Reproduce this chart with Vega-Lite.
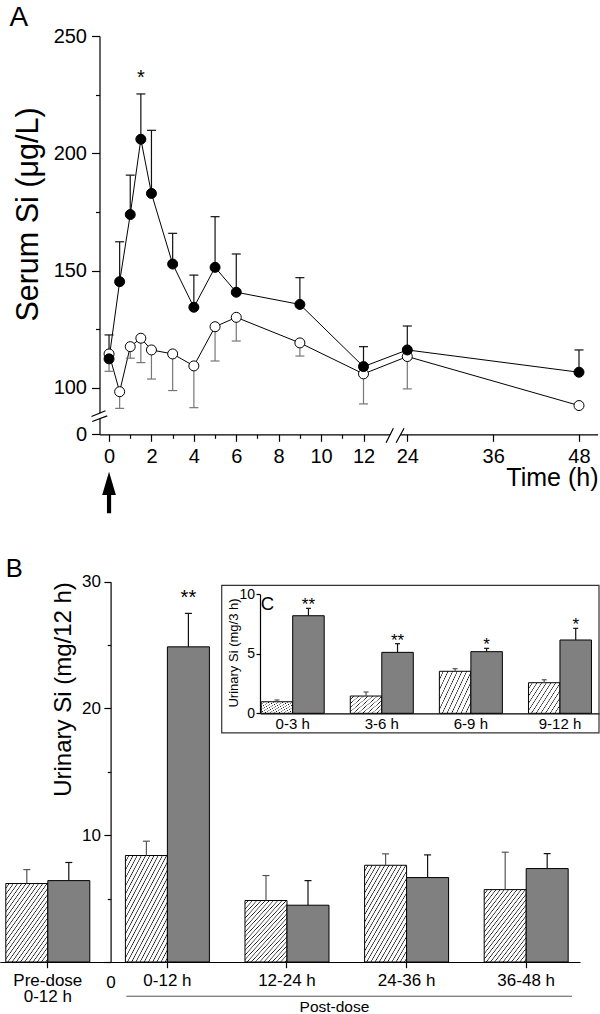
{
"$schema": "https://vega.github.io/schema/vega-lite/v6.json",
"width": 600, "height": 1014, "autosize": {"type": "none"}, "padding": 0,
"background": "white",
"config": {"view": {"stroke": null}, "font": "Liberation Sans",
  "axis": {"labelFont": "Liberation Sans", "titleFont": "Liberation Sans", "labelColor": "black", "titleColor": "black", "domainColor": "black", "tickColor": "black", "titleFontWeight": "normal", "grid": false},
  "text": {"font": "Liberation Sans", "color": "black"}},
"datasets": {
  "serum": [
    {"time": 0, "group": "Si", "value": 112.4, "err": 122.6},
    {"time": 0.5, "group": "Si", "value": 145.3, "err": 162.3},
    {"time": 1, "group": "Si", "value": 173.9, "err": 190.7},
    {"time": 1.5, "group": "Si", "value": 206, "err": 225.3, "sig": "*"},
    {"time": 2, "group": "Si", "value": 182.9, "err": 209.8},
    {"time": 3, "group": "Si", "value": 152.8, "err": 165.9},
    {"time": 4, "group": "Si", "value": 134.4, "err": 148.1},
    {"time": 5, "group": "Si", "value": 151.4, "err": 173},
    {"time": 6, "group": "Si", "value": 140.8, "err": 157.1},
    {"time": 9, "group": "Si", "value": 135.6, "err": 147},
    {"time": 12, "group": "Si", "value": 109.1, "err": 117.6},
    {"time": 24, "group": "Si", "value": 116.2, "err": 126.4},
    {"time": 48, "group": "Si", "value": 106.7, "err": 116.2},
    {"time": 0, "group": "Control", "value": 114.5, "err": 107.1},
    {"time": 0.5, "group": "Control", "value": 98.4, "err": 91.3},
    {"time": 1, "group": "Control", "value": 117.6, "err": 112.7},
    {"time": 1.5, "group": "Control", "value": 121.2, "err": 110.8},
    {"time": 2, "group": "Control", "value": 116.2, "err": 103.8},
    {"time": 3, "group": "Control", "value": 114.5, "err": 98.9},
    {"time": 4, "group": "Control", "value": 109.4, "err": 91.6},
    {"time": 5, "group": "Control", "value": 126.1, "err": 111.5},
    {"time": 6, "group": "Control", "value": 130.1, "err": 120},
    {"time": 9, "group": "Control", "value": 119.2, "err": 113.6},
    {"time": 12, "group": "Control", "value": 106, "err": 93.2},
    {"time": 24, "group": "Control", "value": 113.4, "err": 99.6},
    {"time": 48, "group": "Control", "value": 92.5, "err": 92.5}
  ],
  "urine12": [
    {"period": "Pre-dose 0-12 h", "group": "Control", "value": 6.19, "upper": 7.29},
    {"period": "Pre-dose 0-12 h", "group": "Si", "value": 6.42, "upper": 7.85},
    {"period": "0-12 h", "group": "Control", "value": 8.4, "upper": 9.53},
    {"period": "0-12 h", "group": "Si", "value": 24.86, "upper": 27.5, "sig": "**"},
    {"period": "12-24 h", "group": "Control", "value": 4.85, "upper": 6.82},
    {"period": "12-24 h", "group": "Si", "value": 4.48, "upper": 6.42},
    {"period": "24-36 h", "group": "Control", "value": 7.63, "upper": 8.53},
    {"period": "24-36 h", "group": "Si", "value": 6.66, "upper": 8.45},
    {"period": "36-48 h", "group": "Control", "value": 5.71, "upper": 8.66},
    {"period": "36-48 h", "group": "Si", "value": 7.37, "upper": 8.55}
  ],
  "urine3": [
    {"period": "0-3 h", "group": "Control", "value": 0.97, "upper": 1.12},
    {"period": "0-3 h", "group": "Si", "value": 8.2, "upper": 8.82, "sig": "**"},
    {"period": "3-6 h", "group": "Control", "value": 1.45, "upper": 1.79},
    {"period": "3-6 h", "group": "Si", "value": 5.12, "upper": 5.85, "sig": "**"},
    {"period": "6-9 h", "group": "Control", "value": 3.53, "upper": 3.75},
    {"period": "6-9 h", "group": "Si", "value": 5.18, "upper": 5.46, "sig": "*"},
    {"period": "9-12 h", "group": "Control", "value": 2.57, "upper": 2.82},
    {"period": "9-12 h", "group": "Si", "value": 6.16, "upper": 7.14, "sig": "*"}
  ],
  "labelA": [{"label": "A"}],
  "labelB": [{"label": "B"}],
  "labelC": [{"label": "C"}],
  "postdose": [{"label": "Post-dose"}],
  "dose": [{"label": "dose"}]
},
"resolve": {"scale": {"x": "independent", "y": "independent", "xOffset": "independent"}},
"layer": [
  {"data": {"name": "serum"},
   "mark": {"type": "line", "color": "black", "strokeWidth": 1},
   "encoding": {
     "x": {"field": "time", "type": "quantitative",
       "scale": {"type": "linear", "domain": [-0.45, 12, 24, 50.6], "range": [99.5, 363.5, 407.3, 597.6], "nice": false, "zero": false},
       "axis": {"orient": "bottom", "offset": -579.7, "values": [0, 2, 4, 6, 8, 10, 12, 24, 36, 48], "tickSize": 7, "tickWidth": 1.2, "domainWidth": 1.2, "labelFontSize": 20, "labelPadding": 5, "labelFlush": false, "labelOverlap": false, "labelBound": false, "labelAngle": 0, "title": "Time (h)", "titleFontSize": 25, "titleX": 598, "titleY": 51.5, "titleAlign": "right", "titleBaseline": "alphabetic", "titleAngle": 0}},
     "y": {"field": "value", "type": "quantitative",
       "scale": {"type": "linear", "domain": [0, 84, 250], "range": [434.3, 425.5, 36], "nice": false, "zero": false},
       "axis": {"orient": "left", "offset": -99.5, "values": [0, 100, 150, 200, 250], "tickSize": 8, "tickWidth": 1.2, "domainWidth": 1.2, "labelFontSize": 20, "labelPadding": 5, "labelFlush": false, "labelOverlap": false, "labelBound": false, "title": "Serum Si (μg/L)", "titleFontSize": 30.5, "titleX": -71.5, "titleY": 214, "titleAlign": "center", "titleBaseline": "middle", "titleAngle": -90}},
     "detail": {"field": "group", "type": "nominal"}
   }},
  {"data": {"name": "serum"},
   "mark": {"type": "rule", "strokeWidth": 1.2},
   "encoding": {
     "x": {"field": "time", "type": "quantitative",
       "scale": {"type": "linear", "domain": [-0.45, 12, 24, 50.6], "range": [99.5, 363.5, 407.3, 597.6], "nice": false, "zero": false},
       "axis": {"orient": "bottom", "offset": -579.7, "values": [1, 3, 5, 7, 9, 11], "tickSize": 4, "tickWidth": 1.2, "labels": false, "domain": false, "title": null}},
     "y": {"field": "value", "type": "quantitative",
       "scale": {"type": "linear", "domain": [0, 84, 250], "range": [434.3, 425.5, 36], "nice": false, "zero": false},
       "axis": {"orient": "left", "offset": -99.5, "values": [125, 175, 225], "tickSize": 4, "tickWidth": 1.2, "labels": false, "domain": false, "title": null}},
     "y2": {"field": "err"},
     "color": {"condition": {"test": "datum.group === 'Si'", "value": "#111111"}, "value": "#777777"}
   }},
  {"data": {"name": "serum"},
   "mark": {"type": "point", "shape": "M-1,0L1,0", "size": 81, "strokeWidth": 1.2, "filled": false, "opacity": 1},
   "encoding": {
     "x": {"field": "time", "type": "quantitative",
       "scale": {"type": "linear", "domain": [-0.45, 12, 24, 50.6], "range": [99.5, 363.5, 407.3, 597.6], "nice": false, "zero": false}, "axis": null},
     "y": {"field": "err", "type": "quantitative",
       "scale": {"type": "linear", "domain": [0, 84, 250], "range": [434.3, 425.5, 36], "nice": false, "zero": false}, "axis": null},
     "color": {"condition": {"test": "datum.group === 'Si'", "value": "#111111"}, "value": "#777777"}
   }},
  {"data": {"name": "serum"},
   "transform": [{"filter": "datum.group === 'Control'"}],
   "mark": {"type": "point", "shape": "circle", "size": 100, "filled": true, "fill": "white", "stroke": "black", "strokeWidth": 1, "opacity": 1, "fillOpacity": 1},
   "encoding": {
     "x": {"field": "time", "type": "quantitative",
       "scale": {"type": "linear", "domain": [-0.45, 12, 24, 50.6], "range": [99.5, 363.5, 407.3, 597.6], "nice": false, "zero": false}, "axis": null},
     "y": {"field": "value", "type": "quantitative",
       "scale": {"type": "linear", "domain": [0, 84, 250], "range": [434.3, 425.5, 36], "nice": false, "zero": false}, "axis": null}
   }},
  {"data": {"name": "serum"},
   "transform": [{"filter": "datum.group === 'Si'"}],
   "mark": {"type": "point", "shape": "circle", "size": 100, "filled": true, "fill": "black", "stroke": "black", "strokeWidth": 1, "opacity": 1, "fillOpacity": 1},
   "encoding": {
     "x": {"field": "time", "type": "quantitative",
       "scale": {"type": "linear", "domain": [-0.45, 12, 24, 50.6], "range": [99.5, 363.5, 407.3, 597.6], "nice": false, "zero": false}, "axis": null},
     "y": {"field": "value", "type": "quantitative",
       "scale": {"type": "linear", "domain": [0, 84, 250], "range": [434.3, 425.5, 36], "nice": false, "zero": false}, "axis": null}
   }},
  {"data": {"name": "serum"},
   "transform": [{"filter": "isValid(datum.sig)"}],
   "mark": {"type": "text", "fontSize": 20, "dy": -10, "baseline": "alphabetic", "align": "center", "color": "black"},
   "encoding": {
     "x": {"field": "time", "type": "quantitative",
       "scale": {"type": "linear", "domain": [-0.45, 12, 24, 50.6], "range": [99.5, 363.5, 407.3, 597.6], "nice": false, "zero": false}, "axis": null},
     "y": {"field": "err", "type": "quantitative",
       "scale": {"type": "linear", "domain": [0, 84, 250], "range": [434.3, 425.5, 36], "nice": false, "zero": false}, "axis": null},
     "text": {"field": "sig"}
   }},
  {"data": {"name": "dose"},
   "mark": {"type": "point", "shape": "M0,-1L0.33,0.12L0.1,0.12L0.1,1L-0.1,1L-0.1,0.12L-0.33,0.12Z", "size": 1730, "filled": true, "fill": "black", "strokeWidth": 0, "opacity": 1, "yOffset": 58.2},
   "encoding": {
     "x": {"datum": 0, "type": "quantitative",
       "scale": {"type": "linear", "domain": [-0.45, 12, 24, 50.6], "range": [99.5, 363.5, 407.3, 597.6], "nice": false, "zero": false}, "axis": null},
     "y": {"datum": 0, "type": "quantitative",
       "scale": {"type": "linear", "domain": [0, 84, 250], "range": [434.3, 425.5, 36], "nice": false, "zero": false}, "axis": null}
   }},
  {"data": {"name": "dose"},
   "mark": {"type": "point", "shape": "M-0.6,0.25L0.43,0.25L0.7,-0.25L-0.35,-0.25Z", "size": 400, "filled": true, "fill": "white", "strokeWidth": 0, "opacity": 1},
   "encoding": {
     "x": {"datum": 20.65, "type": "quantitative",
       "scale": {"type": "linear", "domain": [-0.45, 12, 24, 50.6], "range": [99.5, 363.5, 407.3, 597.6], "nice": false, "zero": false}, "axis": null},
     "y": {"datum": 0, "type": "quantitative",
       "scale": {"type": "linear", "domain": [0, 84, 250], "range": [434.3, 425.5, 36], "nice": false, "zero": false}, "axis": null}
   }},
  {"data": {"name": "dose"},
   "mark": {"type": "point", "shape": "M-0.9,0.84L-0.17,-0.6M0.1,0.84L0.9,-0.6", "size": 400, "filled": false, "stroke": "black", "strokeWidth": 1.2, "opacity": 1},
   "encoding": {
     "x": {"datum": 20.65, "type": "quantitative",
       "scale": {"type": "linear", "domain": [-0.45, 12, 24, 50.6], "range": [99.5, 363.5, 407.3, 597.6], "nice": false, "zero": false}, "axis": null},
     "y": {"datum": 0, "type": "quantitative",
       "scale": {"type": "linear", "domain": [0, 84, 250], "range": [434.3, 425.5, 36], "nice": false, "zero": false}, "axis": null}
   }},
  {"data": {"name": "dose"},
   "mark": {"type": "point", "shape": "M-0.2,-0.17L0.2,-0.33L0.2,0.15L-0.2,0.31Z", "size": 400, "filled": true, "fill": "white", "strokeWidth": 0, "opacity": 1},
   "encoding": {
     "x": {"datum": -0.45, "type": "quantitative",
       "scale": {"type": "linear", "domain": [-0.45, 12, 24, 50.6], "range": [99.5, 363.5, 407.3, 597.6], "nice": false, "zero": false}, "axis": null},
     "y": {"datum": 88, "type": "quantitative",
       "scale": {"type": "linear", "domain": [0, 84, 250], "range": [434.3, 425.5, 36], "nice": false, "zero": false}, "axis": null}
   }},
  {"data": {"name": "dose"},
   "mark": {"type": "point", "shape": "M-0.8,0.04L0.6,-0.53M-0.73,0.54L0.77,-0.03", "size": 400, "filled": false, "stroke": "black", "strokeWidth": 1.2, "opacity": 1},
   "encoding": {
     "x": {"datum": -0.45, "type": "quantitative",
       "scale": {"type": "linear", "domain": [-0.45, 12, 24, 50.6], "range": [99.5, 363.5, 407.3, 597.6], "nice": false, "zero": false}, "axis": null},
     "y": {"datum": 88, "type": "quantitative",
       "scale": {"type": "linear", "domain": [0, 84, 250], "range": [434.3, 425.5, 36], "nice": false, "zero": false}, "axis": null}
   }},
  {"data": {"name": "labelA"},
   "mark": {"type": "text", "fontSize": 28, "align": "center", "baseline": "middle", "color": "black"},
   "encoding": {
     "x": {"datum": -4.25, "type": "quantitative",
       "scale": {"type": "linear", "domain": [-0.45, 12, 24, 50.6], "range": [99.5, 363.5, 407.3, 597.6], "nice": false, "zero": false}, "axis": null},
     "y": {"datum": 257.7, "type": "quantitative",
       "scale": {"type": "linear", "domain": [0, 84, 250], "range": [434.3, 425.5, 36], "nice": false, "zero": false}, "axis": null},
     "text": {"field": "label"}
   }},

  {"data": {"name": "urine12"},
   "mark": {"type": "bar", "stroke": "black", "strokeWidth": 1},
   "encoding": {
     "x": {"field": "period", "type": "nominal", "sort": null,
       "scale": {"type": "band", "domain": ["Pre-dose 0-12 h", "0-12 h", "12-24 h", "24-36 h", "36-48 h"], "range": [-0.2, 580], "paddingInner": 0.2977, "paddingOuter": 0.0745, "align": 0.337},
       "axis": {"orient": "bottom", "offset": -52, "tickSize": 5.7, "tickWidth": 1.2, "domainWidth": 1.2, "labelFontSize": 17, "labelPadding": 4.5, "labelLineHeight": 16.5, "labelAngle": 0, "labelFlush": false, "labelOverlap": false, "labelBound": false, "labelExpr": "datum.value === 'Pre-dose 0-12 h' ? ['Pre-dose', '0-12 h'] : datum.value", "title": null}},
     "xOffset": {"field": "group", "type": "nominal", "scale": {"type": "band", "domain": ["Control", "Si"], "paddingInner": 0, "paddingOuter": 0}},
     "y": {"field": "value", "type": "quantitative",
       "scale": {"type": "linear", "domain": [0, 30], "range": [962, 581.7], "nice": false, "zero": false},
       "axis": {"orient": "left", "offset": -110.6, "values": [0, 10, 20, 30], "tickSize": 6.7, "tickWidth": 1.2, "domainWidth": 1.2, "labelFontSize": 17, "labelFlush": false, "labelOverlap": false, "labelBound": false,
         "labelPadding": {"condition": {"test": "datum.value === 0", "value": -6.7}, "value": 3.5},
         "labelAlign": {"condition": {"test": "datum.value === 0", "value": "center"}, "value": "right"},
         "labelOffset": {"condition": {"test": "datum.value === 0", "value": 20}, "value": 0},
         "title": "Urinary Si (mg/12 h)", "titleFontSize": 24, "titleX": -47.6, "titleY": 689, "titleAlign": "center", "titleBaseline": "middle", "titleAngle": -90}},
     "fill": {"condition": {"test": "datum.group === 'Control'", "value": {"gradient": "linear", "x1": 0, "y1": 0, "x2": 0.9, "y2": 1.2, "stops": [
       {"offset": 0, "color": "#ffffff"}, {"offset": 0.025, "color": "#ffffff"}, {"offset": 0.033, "color": "#111111"},
       {"offset": 0.04, "color": "#ffffff"}, {"offset": 0.065, "color": "#ffffff"}, {"offset": 0.073, "color": "#111111"},
       {"offset": 0.08, "color": "#ffffff"}, {"offset": 0.105, "color": "#ffffff"}, {"offset": 0.113, "color": "#111111"},
       {"offset": 0.12, "color": "#ffffff"}, {"offset": 0.145, "color": "#ffffff"}, {"offset": 0.153, "color": "#111111"},
       {"offset": 0.16, "color": "#ffffff"}, {"offset": 0.185, "color": "#ffffff"}, {"offset": 0.193, "color": "#111111"},
       {"offset": 0.2, "color": "#ffffff"}, {"offset": 0.225, "color": "#ffffff"}, {"offset": 0.233, "color": "#111111"},
       {"offset": 0.24, "color": "#ffffff"}, {"offset": 0.265, "color": "#ffffff"}, {"offset": 0.273, "color": "#111111"},
       {"offset": 0.28, "color": "#ffffff"}, {"offset": 0.305, "color": "#ffffff"}, {"offset": 0.313, "color": "#111111"},
       {"offset": 0.32, "color": "#ffffff"}, {"offset": 0.345, "color": "#ffffff"}, {"offset": 0.353, "color": "#111111"},
       {"offset": 0.36, "color": "#ffffff"}, {"offset": 0.385, "color": "#ffffff"}, {"offset": 0.393, "color": "#111111"},
       {"offset": 0.4, "color": "#ffffff"}, {"offset": 0.425, "color": "#ffffff"}, {"offset": 0.433, "color": "#111111"},
       {"offset": 0.44, "color": "#ffffff"}, {"offset": 0.465, "color": "#ffffff"}, {"offset": 0.473, "color": "#111111"},
       {"offset": 0.48, "color": "#ffffff"}, {"offset": 0.505, "color": "#ffffff"}, {"offset": 0.513, "color": "#111111"},
       {"offset": 0.52, "color": "#ffffff"}, {"offset": 0.545, "color": "#ffffff"}, {"offset": 0.553, "color": "#111111"},
       {"offset": 0.56, "color": "#ffffff"}, {"offset": 0.585, "color": "#ffffff"}, {"offset": 0.593, "color": "#111111"},
       {"offset": 0.6, "color": "#ffffff"}, {"offset": 0.625, "color": "#ffffff"}, {"offset": 0.633, "color": "#111111"},
       {"offset": 0.64, "color": "#ffffff"}, {"offset": 0.665, "color": "#ffffff"}, {"offset": 0.673, "color": "#111111"},
       {"offset": 0.68, "color": "#ffffff"}, {"offset": 0.705, "color": "#ffffff"}, {"offset": 0.713, "color": "#111111"},
       {"offset": 0.72, "color": "#ffffff"}, {"offset": 0.745, "color": "#ffffff"}, {"offset": 0.753, "color": "#111111"},
       {"offset": 0.76, "color": "#ffffff"}, {"offset": 0.785, "color": "#ffffff"}, {"offset": 0.793, "color": "#111111"},
       {"offset": 0.8, "color": "#ffffff"}, {"offset": 0.825, "color": "#ffffff"}, {"offset": 0.833, "color": "#111111"},
       {"offset": 0.84, "color": "#ffffff"}, {"offset": 0.865, "color": "#ffffff"}, {"offset": 0.873, "color": "#111111"},
       {"offset": 0.88, "color": "#ffffff"}, {"offset": 0.905, "color": "#ffffff"}, {"offset": 0.913, "color": "#111111"},
       {"offset": 0.92, "color": "#ffffff"}, {"offset": 0.945, "color": "#ffffff"}, {"offset": 0.953, "color": "#111111"},
       {"offset": 0.96, "color": "#ffffff"}, {"offset": 0.985, "color": "#ffffff"}, {"offset": 0.993, "color": "#111111"},
       {"offset": 1, "color": "#ffffff"}]}}, "value": "#808080"}
   }},
  {"data": {"name": "urine12"},
   "mark": {"type": "rule", "strokeWidth": 1.2},
   "encoding": {
     "x": {"field": "period", "type": "nominal",
       "scale": {"type": "band", "domain": ["Pre-dose 0-12 h", "0-12 h", "12-24 h", "24-36 h", "36-48 h"], "range": [-0.2, 580], "paddingInner": 0.2977, "paddingOuter": 0.0745, "align": 0.337}, "axis": null},
     "xOffset": {"field": "group", "type": "nominal", "scale": {"type": "band", "domain": ["Control", "Si"], "paddingInner": 0, "paddingOuter": 0}},
     "y": {"field": "value", "type": "quantitative",
       "scale": {"type": "linear", "domain": [0, 30], "range": [962, 581.7], "nice": false, "zero": false},
       "axis": {"orient": "left", "offset": -110.6, "values": [5, 15, 25], "tickSize": 3.3, "tickWidth": 1.2, "labels": false, "domain": false, "title": null}},
     "y2": {"field": "upper"},
     "color": {"condition": {"test": "datum.group === 'Si'", "value": "#111111"}, "value": "#555555"}
   }},
  {"data": {"name": "urine12"},
   "mark": {"type": "point", "shape": "M-1,0L1,0", "size": 49, "strokeWidth": 1.2, "filled": false, "opacity": 1},
   "encoding": {
     "x": {"field": "period", "type": "nominal",
       "scale": {"type": "band", "domain": ["Pre-dose 0-12 h", "0-12 h", "12-24 h", "24-36 h", "36-48 h"], "range": [-0.2, 580], "paddingInner": 0.2977, "paddingOuter": 0.0745, "align": 0.337}, "axis": null},
     "xOffset": {"field": "group", "type": "nominal", "scale": {"type": "band", "domain": ["Control", "Si"], "paddingInner": 0, "paddingOuter": 0}},
     "y": {"field": "upper", "type": "quantitative",
       "scale": {"type": "linear", "domain": [0, 30], "range": [962, 581.7], "nice": false, "zero": false}, "axis": null},
     "color": {"condition": {"test": "datum.group === 'Si'", "value": "#111111"}, "value": "#555555"}
   }},
  {"data": {"name": "urine12"},
   "transform": [{"filter": "isValid(datum.sig)"}],
   "mark": {"type": "text", "fontSize": 20, "dy": -9, "baseline": "alphabetic", "align": "center", "color": "black"},
   "encoding": {
     "x": {"field": "period", "type": "nominal",
       "scale": {"type": "band", "domain": ["Pre-dose 0-12 h", "0-12 h", "12-24 h", "24-36 h", "36-48 h"], "range": [-0.2, 580], "paddingInner": 0.2977, "paddingOuter": 0.0745, "align": 0.337}, "axis": null},
     "xOffset": {"field": "group", "type": "nominal", "scale": {"type": "band", "domain": ["Control", "Si"], "paddingInner": 0, "paddingOuter": 0}},
     "y": {"field": "upper", "type": "quantitative",
       "scale": {"type": "linear", "domain": [0, 30], "range": [962, 581.7], "nice": false, "zero": false}, "axis": null},
     "text": {"field": "sig"}
   }},
  {"data": {"name": "labelB"},
   "mark": {"type": "text", "fontSize": 25.5, "align": "center", "baseline": "middle", "color": "black"},
   "encoding": {
     "x": {"datum": "Pre-dose 0-12 h", "type": "nominal", "bandPosition": 0.1,
       "scale": {"type": "band", "domain": ["Pre-dose 0-12 h", "0-12 h", "12-24 h", "24-36 h", "36-48 h"], "range": [-0.2, 580], "paddingInner": 0.2977, "paddingOuter": 0.0745, "align": 0.337}, "axis": null},
     "y": {"datum": 31, "type": "quantitative",
       "scale": {"type": "linear", "domain": [0, 30], "range": [962, 581.7], "nice": false, "zero": false}, "axis": null},
     "text": {"field": "label"}
   }},
  {"data": {"name": "postdose"},
   "mark": {"type": "rule", "color": "#555555", "strokeWidth": 1},
   "encoding": {
     "x": {"datum": 0, "type": "quantitative", "scale": {"type": "linear", "domain": [0, 1], "range": [126.3, 572], "nice": false, "zero": false}, "axis": null},
     "x2": {"datum": 1},
     "y": {"datum": -2.7, "type": "quantitative",
       "scale": {"type": "linear", "domain": [0, 30], "range": [962, 581.7], "nice": false, "zero": false}, "axis": null}
   }},
  {"data": {"name": "postdose"},
   "mark": {"type": "text", "fontSize": 15.5, "align": "center", "baseline": "alphabetic", "color": "black"},
   "encoding": {
     "x": {"datum": 0.467, "type": "quantitative", "scale": {"type": "linear", "domain": [0, 1], "range": [126.3, 572], "nice": false, "zero": false}, "axis": null},
     "y": {"datum": -3.92, "type": "quantitative",
       "scale": {"type": "linear", "domain": [0, 30], "range": [962, 581.7], "nice": false, "zero": false}, "axis": null},
     "text": {"field": "label"}
   }},

  {"data": {"name": "labelC"},
   "mark": {"type": "rect", "fill": "transparent", "fillOpacity": 0, "stroke": "#333333", "strokeWidth": 1.2, "strokeOpacity": 1},
   "encoding": {
     "x": {"datum": 0, "type": "quantitative", "scale": {"type": "linear", "domain": [0, 1], "range": [221.7, 599], "nice": false, "zero": false}, "axis": null},
     "x2": {"datum": 1},
     "y": {"datum": -1.65, "type": "quantitative",
       "scale": {"type": "linear", "domain": [0, 10], "range": [713.3, 594.3], "nice": false, "zero": false}, "axis": null},
     "y2": {"datum": 10.75}
   }},
  {"data": {"name": "urine3"},
   "mark": {"type": "bar", "stroke": "black", "strokeWidth": 1},
   "encoding": {
     "x": {"field": "period", "type": "nominal",
       "scale": {"type": "band", "domain": ["0-3 h", "3-6 h", "6-9 h", "9-12 h"], "range": [260, 599], "paddingInner": 0.2929, "paddingOuter": 0.049, "align": 0.137},
       "axis": {"orient": "bottom", "offset": -300.7, "ticks": false, "tickSize": 0, "domainWidth": 1.2, "labelFontSize": 15, "labelPadding": 3.5, "labelAngle": 0, "labelFlush": false, "labelOverlap": false, "labelBound": false, "title": null}},
     "xOffset": {"field": "group", "type": "nominal", "scale": {"type": "band", "domain": ["Control", "Si"], "paddingInner": 0, "paddingOuter": 0}},
     "y": {"field": "value", "type": "quantitative",
       "scale": {"type": "linear", "domain": [0, 10], "range": [713.3, 594.3], "nice": false, "zero": false},
       "axis": {"orient": "left", "offset": -260, "values": [0, 5, 10], "tickSize": 4, "tickWidth": 1.2, "domainWidth": 1.2, "labelFontSize": 14, "labelPadding": 1.5, "labelFlush": false, "labelOverlap": false, "labelBound": false, "title": "Urinary Si (mg/3 h)", "titleFontSize": 13, "titleX": -26.7, "titleY": 652.5, "titleAlign": "center", "titleBaseline": "middle", "titleAngle": -90}},
     "fill": {"condition": {"test": "datum.group === 'Control'", "value": {"gradient": "linear", "x1": 0, "y1": 0, "x2": 1.28, "y2": 0.8, "stops": [
       {"offset": 0, "color": "#ffffff"}, {"offset": 0.058, "color": "#ffffff"}, {"offset": 0.07, "color": "#111111"},
       {"offset": 0.0833, "color": "#ffffff"}, {"offset": 0.1413, "color": "#ffffff"}, {"offset": 0.1533, "color": "#111111"},
       {"offset": 0.1667, "color": "#ffffff"}, {"offset": 0.2247, "color": "#ffffff"}, {"offset": 0.2367, "color": "#111111"},
       {"offset": 0.25, "color": "#ffffff"}, {"offset": 0.308, "color": "#ffffff"}, {"offset": 0.32, "color": "#111111"},
       {"offset": 0.3333, "color": "#ffffff"}, {"offset": 0.3913, "color": "#ffffff"}, {"offset": 0.4033, "color": "#111111"},
       {"offset": 0.4167, "color": "#ffffff"}, {"offset": 0.4747, "color": "#ffffff"}, {"offset": 0.4867, "color": "#111111"},
       {"offset": 0.5, "color": "#ffffff"}, {"offset": 0.558, "color": "#ffffff"}, {"offset": 0.57, "color": "#111111"},
       {"offset": 0.5833, "color": "#ffffff"}, {"offset": 0.6413, "color": "#ffffff"}, {"offset": 0.6533, "color": "#111111"},
       {"offset": 0.6667, "color": "#ffffff"}, {"offset": 0.7247, "color": "#ffffff"}, {"offset": 0.7367, "color": "#111111"},
       {"offset": 0.75, "color": "#ffffff"}, {"offset": 0.808, "color": "#ffffff"}, {"offset": 0.82, "color": "#111111"},
       {"offset": 0.8333, "color": "#ffffff"}, {"offset": 0.8913, "color": "#ffffff"}, {"offset": 0.9033, "color": "#111111"},
       {"offset": 0.9167, "color": "#ffffff"}, {"offset": 0.9747, "color": "#ffffff"}, {"offset": 0.9867, "color": "#111111"},
       {"offset": 1, "color": "#ffffff"}]}}, "value": "#808080"}
   }},
  {"data": {"name": "urine3"},
   "mark": {"type": "rule", "strokeWidth": 1.2},
   "encoding": {
     "x": {"field": "period", "type": "nominal",
       "scale": {"type": "band", "domain": ["0-3 h", "3-6 h", "6-9 h", "9-12 h"], "range": [260, 599], "paddingInner": 0.2929, "paddingOuter": 0.049, "align": 0.137}, "axis": null},
     "xOffset": {"field": "group", "type": "nominal", "scale": {"type": "band", "domain": ["Control", "Si"], "paddingInner": 0, "paddingOuter": 0}},
     "y": {"field": "value", "type": "quantitative",
       "scale": {"type": "linear", "domain": [0, 10], "range": [713.3, 594.3], "nice": false, "zero": false}, "axis": null},
     "y2": {"field": "upper"},
     "color": {"condition": {"test": "datum.group === 'Si'", "value": "#111111"}, "value": "#555555"}
   }},
  {"data": {"name": "urine3"},
   "mark": {"type": "point", "shape": "M-1,0L1,0", "size": 25, "strokeWidth": 1.2, "filled": false, "opacity": 1},
   "encoding": {
     "x": {"field": "period", "type": "nominal",
       "scale": {"type": "band", "domain": ["0-3 h", "3-6 h", "6-9 h", "9-12 h"], "range": [260, 599], "paddingInner": 0.2929, "paddingOuter": 0.049, "align": 0.137}, "axis": null},
     "xOffset": {"field": "group", "type": "nominal", "scale": {"type": "band", "domain": ["Control", "Si"], "paddingInner": 0, "paddingOuter": 0}},
     "y": {"field": "upper", "type": "quantitative",
       "scale": {"type": "linear", "domain": [0, 10], "range": [713.3, 594.3], "nice": false, "zero": false}, "axis": null},
     "color": {"condition": {"test": "datum.group === 'Si'", "value": "#111111"}, "value": "#555555"}
   }},
  {"data": {"name": "urine3"},
   "transform": [{"filter": "isValid(datum.sig)"}],
   "mark": {"type": "text", "fontSize": 17, "dy": 2, "baseline": "alphabetic", "align": "center", "color": "black"},
   "encoding": {
     "x": {"field": "period", "type": "nominal",
       "scale": {"type": "band", "domain": ["0-3 h", "3-6 h", "6-9 h", "9-12 h"], "range": [260, 599], "paddingInner": 0.2929, "paddingOuter": 0.049, "align": 0.137}, "axis": null},
     "xOffset": {"field": "group", "type": "nominal", "scale": {"type": "band", "domain": ["Control", "Si"], "paddingInner": 0, "paddingOuter": 0}},
     "y": {"field": "upper", "type": "quantitative",
       "scale": {"type": "linear", "domain": [0, 10], "range": [713.3, 594.3], "nice": false, "zero": false}, "axis": null},
     "text": {"field": "sig"}
   }},
  {"data": {"name": "labelC"},
   "mark": {"type": "text", "fontSize": 18.5, "align": "center", "baseline": "middle", "color": "black"},
   "encoding": {
     "x": {"datum": "0-3 h", "type": "nominal", "bandPosition": 0.1,
       "scale": {"type": "band", "domain": ["0-3 h", "3-6 h", "6-9 h", "9-12 h"], "range": [260, 599], "paddingInner": 0.2929, "paddingOuter": 0.049, "align": 0.137}, "axis": null},
     "y": {"datum": 9.2, "type": "quantitative",
       "scale": {"type": "linear", "domain": [0, 10], "range": [713.3, 594.3], "nice": false, "zero": false}, "axis": null},
     "text": {"field": "label"}
   }}
]
}
